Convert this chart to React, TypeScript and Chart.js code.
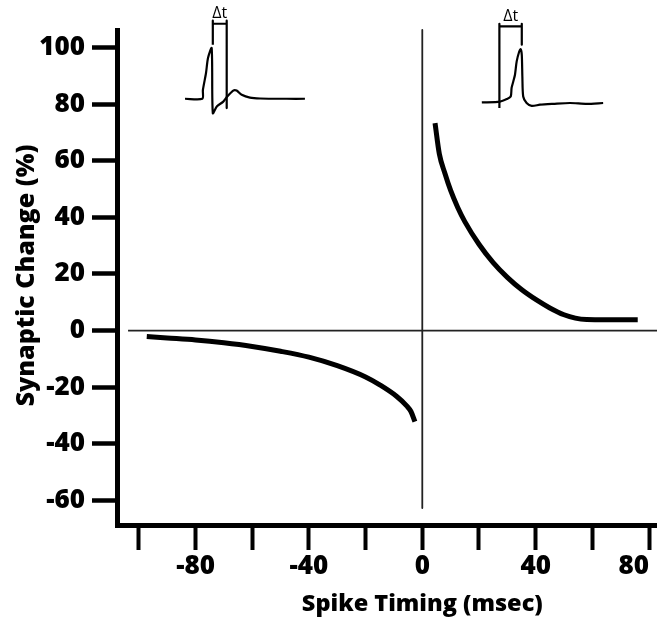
import React, { useEffect, useRef } from "react";
import { Chart, registerables } from "chart.js";

Chart.register(...registerables);

// Axis ticks
const xTicks = [-100, -80, -60, -40, -20, 0, 20, 40, 60, 80];
const xTickLabels = ["", "-80", "", "-40", "", "0", "", "40", "", "80"];
const yTicks = [-60, -40, -20, 0, 20, 40, 60, 80, 100];
const yTickLabels = ["-60", "-40", "-20", "0", "20", "40", "60", "80", "100"];

// LTD branch (post before pre, negative timing)
const ltdX = [-97.2, -90, -80, -70, -60, -50, -40, -30, -20, -15, -9, -5.5, -4, -2.6];
const ltdY = [-2.1, -2.6, -3.3, -4.3, -5.6, -7.3, -9.4, -12.4, -16.4, -19.2, -23.3, -26.6, -28.6, -32.2];

// LTP branch (pre before post, positive timing)
const ltpX = [4.5, 6, 8, 10, 12.5, 15, 20, 25, 30, 35, 40, 45, 50, 54, 58, 65, 76];
const ltpY = [73.3, 62.5, 55.5, 49.5, 43.5, 38.5, 30.5, 24, 18.8, 14.5, 11, 8, 5.6, 4.4, 3.9, 3.8, 3.8];

// Reference lines through the origin
const zeroLineX = [-103.8, 82.8];
const zeroLineY = [0, 0];
const originLineX = [0, 0];
const originLineY = [106.2, -62.7];

// Inset traces (drawn in data units)
const leftTraceX = [-83.7, -77.6, -77.4, -76.3, -75.6, -74.3, -73.9, -72.5, -70.2, -68.8, -66.7, -65.5, -63.7, -60.8, -57.2, -47.8, -41.4];
const leftTraceY = [81.9, 81.9, 85.0, 91.0, 96.3, 99.8, 76.8, 79.2, 80.9, 82.7, 84.8, 84.8, 83.3, 82.3, 82.0, 81.9, 81.9];
const leftBracketX = [-73.9, -73.9, -73.9, -69.0, -69.0, -69.0];
const leftBracketY = [101.0, 109.5, 108.4, 108.4, 109.5, 78.6];

const rightTraceX = [21.0, 27.4, 29.8, 31.2, 31.5, 32.1, 32.7, 33.3, 34.2, 34.7, 35.1, 35.3, 35.6, 36.8, 38.6, 41.5, 46.2, 52.1, 58.0, 63.8];
const rightTraceY = [80.6, 80.9, 81.8, 82.7, 85.7, 88.0, 90.4, 95.1, 98.6, 99.4, 97.4, 89.8, 82.7, 80.4, 79.4, 79.8, 80.1, 80.4, 80.1, 80.4];
const rightBracketX = [27.2, 27.2, 27.2, 35.1, 35.1, 35.1];
const rightBracketY = [78.6, 108.4, 107.5, 107.5, 108.4, 101.0];

const deltaLabels = [
  { text: "Δt", x: -71.5, y: 112.0 },
  { text: "Δt", x: 31.2, y: 111.0 },
];

const xTitle = "Spike Timing (msec)";
const yTitle = "Synaptic Change (%)";

const FONT = "'Open Sans', 'Noto Sans', sans-serif";

const pts = (xs: number[], ys: number[]) => xs.map((x, i) => ({ x, y: ys[i] }));

export default function App() {
  const ref = useRef<HTMLCanvasElement | null>(null);

  useEffect(() => {
    if (!ref.current) return;

    const textPlugin = {
      id: "texts",
      afterDraw(chart: any) {
        const { ctx, chartArea, scales } = chart;
        ctx.save();
        ctx.fillStyle = "#000";
        ctx.textAlign = "center";
        ctx.textBaseline = "middle";
        ctx.font = `800 23.5px ${FONT}`;
        ctx.fillText(xTitle, scales.x.getPixelForValue(0), 604);
        ctx.font = `800 25px ${FONT}`;
        ctx.translate(27, (chartArea.top + chartArea.bottom) / 2 - 2);
        ctx.rotate(-Math.PI / 2);
        ctx.fillText(yTitle, 0, 0);
        ctx.restore();

        ctx.save();
        ctx.fillStyle = "#000";
        ctx.font = `16px ${FONT}`;
        ctx.textAlign = "center";
        ctx.textBaseline = "middle";
        deltaLabels.forEach((d) => {
          ctx.fillText(d.text, scales.x.getPixelForValue(d.x), scales.y.getPixelForValue(d.y));
        });
        ctx.restore();
      },
    };

    const lineDs = (data: any[], width: number, color = "#000", smooth = true) => ({
      data,
      borderColor: color,
      borderWidth: width,
      pointRadius: 0,
      fill: false,
      tension: smooth ? 0.4 : 0,
      cubicInterpolationMode: smooth ? ("monotone" as const) : ("default" as const),
      clip: false as any,
      borderCapStyle: "butt" as const,
      borderJoinStyle: "round" as const,
    });

    const chart = new Chart(ref.current, {
      type: "line",
      data: {
        datasets: [
          lineDs(pts(zeroLineX, zeroLineY), 1.8, "#222", false),
          lineDs(pts(originLineX, originLineY), 1.8, "#222", false),
          lineDs(pts(ltdX, ltdY), 5),
          lineDs(pts(ltpX, ltpY), 5),
          { ...lineDs(pts(leftTraceX, leftTraceY), 2.2, "#000", false), tension: 0.25 },
          lineDs(pts(leftBracketX, leftBracketY), 2.2, "#000", false),
          { ...lineDs(pts(rightTraceX, rightTraceY), 2.2, "#000", false), tension: 0.25 },
          lineDs(pts(rightBracketX, rightBracketY), 2.2, "#000", false),
        ] as any,
      },
      plugins: [textPlugin],
      options: {
        responsive: false,
        animation: false,
        layout: { padding: { top: 30, right: 0, bottom: 0, left: 0 } },
        plugins: {
          legend: { display: false },
          tooltip: { enabled: false },
        },
        scales: {
          x: {
            type: "linear",
            min: -107.7,
            max: 82.8,
            afterBuildTicks: (s: any) => {
              s.ticks = xTicks.map((v) => ({ value: v }));
            },
            afterFit: (s: any) => {
              s.height = 95;
              s.paddingLeft = 0;
              s.paddingRight = 0;
            },
            border: { display: true, color: "#000", width: 5 },
            grid: {
              drawOnChartArea: false,
              drawTicks: true,
              tickLength: 25,
              tickWidth: 4,
              tickColor: "#000",
            },
            ticks: {
              autoSkip: false,
              maxRotation: 0,
              align: "inner",
              padding: 1,
              color: "#000",
              font: { family: FONT, weight: "800", size: 26 },
              callback: (_v: any, i: number) => xTickLabels[i],
            },
          },
          y: {
            type: "linear",
            min: -68.7,
            max: 106.2,
            afterBuildTicks: (s: any) => {
              s.ticks = yTicks.map((v) => ({ value: v }));
            },
            afterFit: (s: any) => {
              s.width = 117;
              s.paddingTop = 0;
              s.paddingBottom = 0;
            },
            border: { display: true, color: "#000", width: 5 },
            grid: {
              drawOnChartArea: false,
              drawTicks: true,
              tickLength: 25,
              tickWidth: 4.5,
              tickColor: "#000",
            },
            ticks: {
              autoSkip: false,
              padding: 7,
              color: "#000",
              font: { family: FONT, weight: "800", size: 26 },
              callback: (_v: any, i: number) => yTickLabels[i],
            },
          },
        },
      },
    });

    return () => chart.destroy();
  }, []);

  return (
    <div style={{ position: "absolute", left: 0, top: 0, width: 657, height: 620, background: "#fff" }}>
      <canvas ref={ref} width={657} height={620} style={{ display: "block", width: 657, height: 620 }} />
    </div>
  );
}
